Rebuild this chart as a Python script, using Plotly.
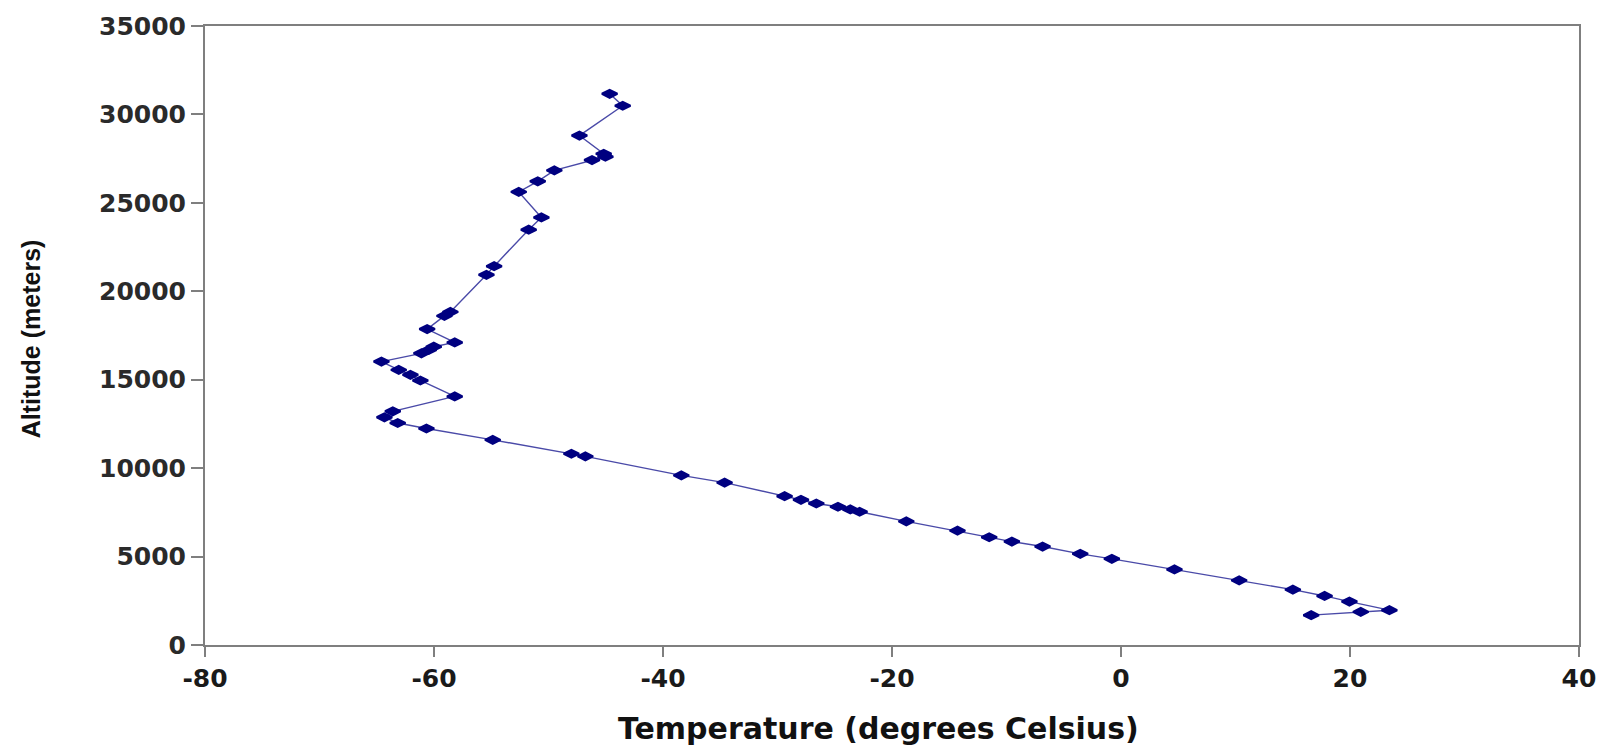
import plotly.graph_objects as go

# Temperature (deg C) and altitude (m) readings, from the ground upward
temperature = [16.61, 20.94, 23.44, 19.95, 17.78, 15.01, 10.32, 4.67, -0.80, -3.56,
               -6.85, -9.53, -11.51, -14.28, -18.75, -22.83, -23.64, -24.72, -26.61, -27.95,
               -29.38, -34.62, -38.40, -46.78, -48.00, -54.87, -60.66, -63.17, -64.33, -63.60,
               -58.19, -61.19, -62.06, -63.08, -64.59, -61.10, -60.46, -60.02, -58.19, -60.60,
               -59.09, -58.57, -55.42, -54.75, -51.73, -50.62, -52.60, -50.94, -49.49, -46.20,
               -45.03, -45.18, -47.30, -43.52, -44.66]
altitude = [1687, 1874, 1968, 2455, 2774, 3130, 3655, 4273, 4873, 5154,
            5566, 5847, 6091, 6466, 6991, 7534, 7665, 7815, 8002, 8209,
            8415, 9182, 9590, 10666, 10812, 11599, 12240, 12555, 12875, 13213,
            14056, 14956, 15276, 15557, 16024, 16491, 16682, 16867, 17109, 17862,
            18610, 18835, 20932, 21421, 23485, 24176, 25621, 26218, 26836, 27420,
            27606, 27775, 28804, 30490, 31165]

x_ticks = [-80, -60, -40, -20, 0, 20, 40]
y_ticks = [0, 5000, 10000, 15000, 20000, 25000, 30000, 35000]
x_title = "Temperature (degrees Celsius)"
y_title = "Altitude (meters)"

fig = go.Figure()
fig.add_trace(go.Scatter(
    x=temperature, y=altitude, mode="lines+markers",
    line=dict(color="#4a4aa8", width=1.4),
    marker=dict(symbol="diamond-wide", size=11, color="#000080",
                line=dict(width=2.2, color="#000080")),
    showlegend=False, hoverinfo="x+y",
))

axis_line = "#7f7f7f"
fig.update_layout(
    width=1608, height=745,
    margin=dict(l=205, r=29, t=22, b=100),
    paper_bgcolor="white", plot_bgcolor="white",
    xaxis=dict(
        range=[-80, 40], tickvals=x_ticks, ticktext=[str(v) for v in x_ticks],
        showgrid=False, zeroline=False,
        showline=True, linecolor=axis_line, linewidth=2, mirror=True,
        ticks="outside", ticklen=10, tickwidth=2, tickcolor=axis_line,
        tickfont=dict(family="DejaVu Sans", size=25, color="#1a1a1a", weight="bold"),
    ),
    yaxis=dict(
        range=[0, 35000], tickvals=y_ticks, ticktext=[str(v) for v in y_ticks],
        showgrid=False, zeroline=False,
        showline=True, linecolor=axis_line, linewidth=2, mirror=True,
        ticks="outside", ticklen=12, tickwidth=2, tickcolor=axis_line,
        tickfont=dict(family="DejaVu Sans", size=25, color="#2a2a2a", weight="bold"),
    ),
    annotations=[
        dict(text="<b>" + x_title + "</b>", xref="paper", yref="paper",
             x=0.49, y=-0.135, xanchor="center", yanchor="middle", showarrow=False,
             font=dict(family="DejaVu Sans", size=30, color="#111111")),
        dict(text="<b>" + y_title + "</b>", xref="paper", yref="paper",
             x=-0.1266, y=0.494, xanchor="center", yanchor="middle", showarrow=False,
             textangle=-90,
             font=dict(family="Liberation Sans", size=25, color="#111111")),
    ],
)

fig.write_html("out.html")
